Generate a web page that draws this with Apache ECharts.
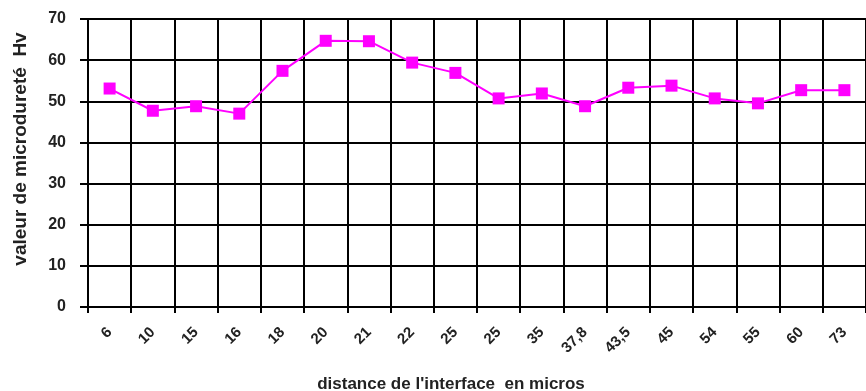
<!DOCTYPE html>
<html>
<head>
<meta charset="utf-8">
<script src="https://cdn.jsdelivr.net/npm/echarts@6/dist/echarts.min.js"></script>
<style>
  html, body { margin: 0; padding: 0; background: #fff; }
  #chart { width: 866px; height: 391px; }
</style>
</head>
<body>
<div id="chart"></div>
<script>
// distances (micros) - note "25" appears twice in the original
const distances = ['6', '10', '15', '16', '18', '20', '21', '22', '25', '25', '35', '37,8', '43,5', '45', '54', '55', '60', '73'];
// microdureté Hv
const hardness = [53.1, 47.7, 48.8, 47.0, 57.4, 64.7, 64.6, 59.4, 56.9, 50.7, 51.9, 48.8, 53.3, 53.8, 50.7, 49.5, 52.7, 52.7];
const yTicks = { min: 0, max: 70, interval: 10 };

const chart = echarts.init(document.getElementById('chart'));
const font = '"Liberation Sans", Arial, sans-serif';

chart.setOption({
  animation: false,
  grid: { left: 88, top: 19, right: -8, bottom: 84 },
  xAxis: {
    type: 'category',
    data: distances,
    boundaryGap: true,
    axisLine: { lineStyle: { color: '#000', width: 2 } },
    axisTick: { show: true, interval: 0, length: 6, lineStyle: { color: '#000', width: 2 } },
    axisLabel: {
      interval: 0, rotate: 45, margin: 23,
      fontFamily: font, fontSize: 15, fontWeight: 'bold', color: '#222'
    },
    splitLine: { show: true, interval: 0, lineStyle: { color: '#000', width: 2 } }
  },
  yAxis: {
    type: 'value',
    min: yTicks.min, max: yTicks.max, interval: yTicks.interval,
    axisLine: { show: true, lineStyle: { color: '#000', width: 2 } },
    axisTick: { show: true, length: 8, lineStyle: { color: '#000', width: 2 } },
    axisLabel: { margin: 22, fontFamily: font, fontSize: 16, fontWeight: 'bold', color: '#222' },
    splitLine: { show: true, lineStyle: { color: '#000', width: 2 } }
  },
  graphic: [
    {
      type: 'text', x: 451, y: 384,
      style: {
        text: "distance de l'interface  en micros", fontFamily: font, fontSize: 17, fontWeight: 'bold',
        fill: '#222', align: 'center', verticalAlign: 'middle'
      }
    },
    {
      type: 'text', x: 21, y: 149, rotation: Math.PI / 2,
      style: {
        text: 'valeur de microdureté  Hv', fontFamily: font, fontSize: 19, fontWeight: 'bold',
        fill: '#222', align: 'center', verticalAlign: 'middle'
      }
    }
  ],
  series: [{
    type: 'line',
    data: hardness,
    symbol: 'rect',
    symbolSize: 12,
    lineStyle: { color: '#ff00ff', width: 2 },
    itemStyle: { color: '#ff00ff' }
  }]
});
</script>
</body>
</html>
